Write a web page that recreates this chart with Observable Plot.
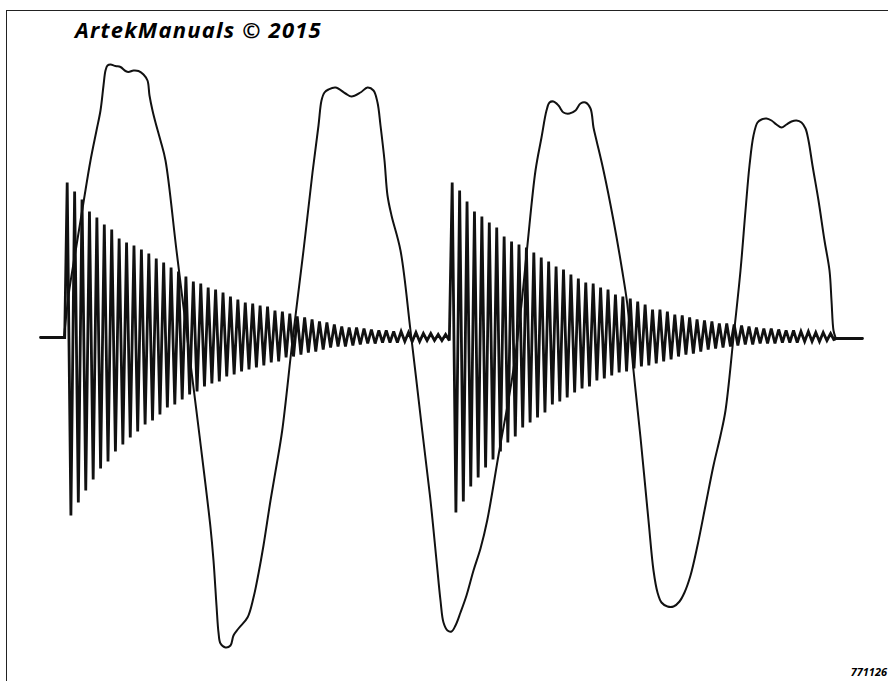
<!DOCTYPE html>
<html>
<head>
<meta charset="utf-8">
<script src="https://cdn.jsdelivr.net/npm/d3@7"></script>
<script src="https://cdn.jsdelivr.net/npm/@observablehq/plot@0.6"></script>
<style>
  html, body { margin: 0; padding: 0; background: #fff; }
  #wrap { position: relative; width: 888px; height: 681px; overflow: hidden; background: #fff; }
  #frame { position: absolute; left: 6px; top: 10px; width: 900px; height: 700px;
           border-left: 1.6px solid #222; border-top: 1.6px solid #222; pointer-events: none; }
  #title { position: absolute; left: 75px; top: 18px; font-family: "Open Sans", sans-serif;
           font-weight: 700; font-style: italic; font-size: 22px; letter-spacing: 1.2px; line-height: 22px; color: #000; white-space: nowrap; }
  #code { position: absolute; right: 1px; top: 666px; font-family: "Open Sans", sans-serif;
          font-weight: 700; font-style: italic; font-size: 11px; line-height: 11px; color: #000; }
  #chart { position: absolute; left: 0; top: 0; }
</style>
</head>
<body>
<div id="wrap">
  <div id="chart"></div>
  <div id="frame"></div>
  <div id="title">ArtekManuals © 2015</div>
  <div id="code">771126</div>
</div>
<script>
// ---- data (time axis in arbitrary units, deflection relative to baseline) ----
const titleText = "ArtekManuals © 2015";
const figureCode = "771126";

// Damped oscillation bursts: start time, period, positive peaks and negative troughs per cycle
const burst1Start = 66.7;
const burst2Start = 451.7;
const burstPeriod = 7.42;
const burst1Top = [155,146,138,126,120,113,108,99,95,92,88,84,79,75,70,66,61,56,54,50,48,45,
  41,38,35,34,32,31,27,26,24,21,20,18,16,15,13,11,10,10,9,8,7,7,6,6,5,5,4,4,3,3];
const burst1Bottom = [178,165,153,142,131,124,114,107,100,94,87,83,77,70,67,62,57,54,49,46,44,39,
  37,34,32,30,28,25,24,20,19,17,15,14,12,10,9,9,8,7,6,6,5,5,5,4,4,4,3,3,3,3];
const burst2Top = [155,147,136,126,121,115,110,101,96,93,90,85,80,76,71,68,63,59,55,54,50,48,43,41,39,36,33,
  28,28,26,23,22,20,18,17,16,14,14,13,12,11,10,9,9,8,7,7,6,6,5,5,4];
const burst2Bottom = [175,164,149,140,130,122,114,105,99,90,85,80,75,67,64,60,55,51,49,43,41,38,35,34,31,29,
  28,26,24,22,19,17,16,14,12,11,10,9,8,7,7,6,6,6,5,5,5,4,4,4,3,3];
const traceStart = 40, traceEnd = 862, burstEnd = 834;

// Slow large wave (time, deflection)
const slowT = [63.5,68.3,76,83.3,90,96,100,103,105,107,110,115,120,125,128,133,138,143,147,149,152,155,160,165,
  176,187.5,199,210,213,216,218,220,225,230,233,238,247,253,258,263,270,276,281.7,292,303,312,318,321,324,328,
  335,345,351,360,367,373,377,380,384,387,391,400,410,421.7,430,436,440,443,447,451,455,460,466,473,480,486.7,
  498.3,511.7,520,526.7,535,541,546,549,553,558,563,569,575,580,585,590,593,596,603,613,621.7,626.7,633,640,648,
  653,657,661,667,673,679,684,690,697,705,713,720,725,733,740,745,749,753,757,761,766,771,776,781,786,791,796,
  801,805,808,812,818,824,829,831,833,835];
const slowV = [0,44,92,137,177,207,227,252,267,272,273,271.5,270.5,266.5,265.5,267,266.5,263,257,242,227,215,197,177,
  87,-6,-98,-190,-223,-268,-295,-306,-310,-308,-298,-291,-280,-260,-236,-208,-163,-128,-93,-3,87,165,212,237,245,248,
  250,244,241,245,250,247,235,212,177,142,122,87,7,-93,-163,-223,-263,-285,-293,-294,-288,-275,-258,-233,-211,-183,
  -116,-40,24,90,167,200,227,235,236,232,225,224,227,234,235,229,210,197,167,117,67,34,-33,-100,-183,
  -233,-255,-265,-269,-269,-264,-255,-238,-208,-168,-128,-98,-73,0,67,127,172,202,215,218,219,217,213,210,213,216,217,
  215,209,197,172,137,97,67,37,7,0];

// ---- build tables ----
function burstPoints(start, top, bottom) {
  const pts = [];
  top.forEach((v, i) => {
    pts.push({t: start + i * burstPeriod, v: v});
    pts.push({t: start + (i + 0.5) * burstPeriod, v: -bottom[i]});
  });
  return pts;
}
const burstData = [
  {t: traceStart, v: 0}, {t: burst1Start - 2.5, v: 0},
  ...burstPoints(burst1Start, burst1Top, burst1Bottom),
  ...burstPoints(burst2Start, burst2Top, burst2Bottom),
  {t: burstEnd, v: -1}, {t: traceEnd, v: -1}
];
const slowData = slowT.map((t, i) => ({t, v: slowV[i]}));

const chart = Plot.plot({
  width: 888,
  height: 681,
  margin: 0,
  style: {background: "transparent"},
  x: {domain: [0, 888], axis: null},
  y: {domain: [-344, 337], axis: null},
  marks: [
    Plot.line(burstData, {x: "t", y: "v", stroke: "#111", strokeWidth: 2.8, strokeLinejoin: "miter", strokeMiterlimit: 3}),
    Plot.line(slowData, {x: "t", y: "v", stroke: "#111", strokeWidth: 2, curve: "catmull-rom"})
  ]
});
document.getElementById("chart").appendChild(chart);
document.getElementById("title").textContent = titleText;
document.getElementById("code").textContent = figureCode;
</script>
</body>
</html>
